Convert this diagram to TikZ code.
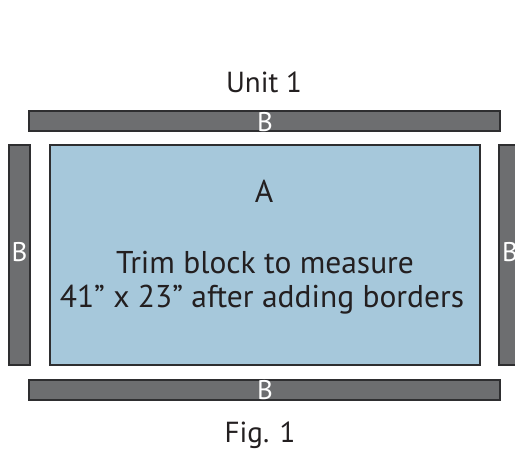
\documentclass[tikz,border=0pt]{standalone}
\usepackage{fontspec}
\setmainfont{PT Sans}
\usepackage{tikz}
\usetikzlibrary{calc}
\definecolor{ink}{HTML}{231F20}
\definecolor{barfill}{HTML}{6D6E70}
\definecolor{barline}{HTML}{2E2E30}
\definecolor{blockfill}{HTML}{A6C8DB}
\tikzset{
  every picture/.style={line join=miter},
  bar/.style={fill=barfill, draw=barline, line width=1.3pt},
  block/.style={fill=blockfill, draw=barline, line width=1.2pt},
  lab/.style={text=ink, font=\fontsize{29}{33}\selectfont, inner sep=0pt, anchor=base},
  blocklab/.style={lab, font=\fontsize{31.5}{35}\selectfont},
  barlab/.style={text=white, font=\fontsize{27}{30}\selectfont, inner sep=0pt, anchor=base}
}

\begin{document}
\begin{tikzpicture}[x=1pt, y=-1pt]
  \useasboundingbox (0,0) rectangle (515,452);

  % border strips
  \draw[bar] (29,111) rectangle (500,131);
  \draw[bar] (29,380) rectangle (500,400);
  \draw[bar] (9,145) rectangle (30,365);
  \draw[bar] (499,145) rectangle (522,365);

  % centre block
  \draw[block] (50,145) rectangle (480,365);

  % labels
  \node[lab] (unit) at (264,93) {Unit 1};
  \node[barlab] (btop) at (265,131.5) {B};
  \node[barlab] (bbot) at (265,399) {B};
  \node[barlab] (bleft) at (19.5,261) {B};
  \node[barlab] (bright) at (510,261) {B};
  \node[blocklab] (a) at (264,202) {A};
  \node[blocklab] (trim) at (265,273) {Trim block to measure};
  \node[blocklab] (size) at (262,307) {41\textquotedblright\ x 23\textquotedblright\ after adding borders};
  \node[lab] (fig) at (260,442) {Fig. 1};
\end{tikzpicture}
\end{document}
